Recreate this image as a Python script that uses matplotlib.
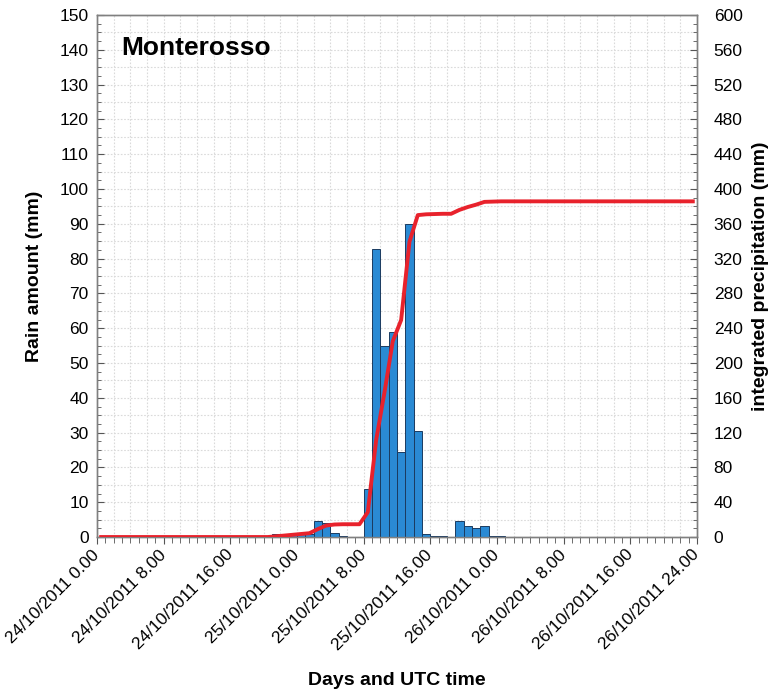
import numpy as np
from matplotlib import pyplot as plt
from matplotlib.ticker import MultipleLocator

plt.rcParams['font.family'] = ['Liberation Sans', 'DejaVu Sans']

# hourly rain (mm), hour 0 = 24/10/2011 0.00
hours = np.arange(72)
rain = [0.0] * 72
rain_read = {
	21: 0.8, 22: 0.9, 23: 0.9, 24: 0.9, 25: 0.9,
	26: 4.7, 27: 4.1, 28: 1.2, 29: 0.3,
	32: 13.9, 33: 82.7, 34: 54.9, 35: 58.9, 36: 24.3, 37: 90.0, 38: 30.6,
	39: 0.9, 40: 0.3, 41: 0.3,
	43: 4.5, 44: 3.3, 45: 2.7, 46: 3.2, 47: 0.3, 48: 0.3,
}
for h, v in rain_read.items():
	rain[h] = v

# integrated precipitation, plotted at the middle of each hour
integrated = np.cumsum(rain)

tick_hours = list(range(0, 73, 8))
tick_labels = ['24/10/2011 0.00', '24/10/2011 8.00', '24/10/2011 16.00',
	'25/10/2011 0.00', '25/10/2011 8.00', '25/10/2011 16.00',
	'26/10/2011 0.00', '26/10/2011 8.00', '26/10/2011 16.00',
	'26/10/2011 24.00']


fig = plt.figure(figsize=(7.77, 6.9), dpi=100)
ax = fig.add_axes([0.1248, 0.2217, 0.7722, 0.7566])
ax2 = ax.twinx()

ax.set_zorder(1)
ax2.set_zorder(2)
ax.patch.set_visible(True)
ax2.patch.set_visible(False)

ax.bar(hours, rain, width=1.0, align='edge', color='#2a8ad4',
	edgecolor='#1b3b60', linewidth=0.7, zorder=3)
ax2.plot(hours + 0.5, integrated, color='#e8222c', linewidth=2.8,
	solid_joinstyle='round', zorder=4)

ax.set_xlim(0, 72)
ax.set_ylim(0, 150)
ax2.set_ylim(0, 600)

ax.set_xticks(tick_hours)
ax.set_xticklabels(tick_labels, rotation=45, ha='right', va='center',
	rotation_mode='anchor', fontsize=12.5)
ax.xaxis.set_minor_locator(MultipleLocator(1))
ax.yaxis.set_major_locator(MultipleLocator(10))
ax.yaxis.set_minor_locator(MultipleLocator(2.5))
ax2.yaxis.set_major_locator(MultipleLocator(40))
ax2.yaxis.set_minor_locator(MultipleLocator(10))

# light dotted grid: every 2 hours / every 5 mm
for x in range(2, 72, 2):
	ax.axvline(x, color='#dadada', linestyle=(0, (1.5, 1.5)), linewidth=0.8, zorder=0)
for y in np.arange(5, 150, 5):
	ax.axhline(y, color='#dadada', linestyle=(0, (1.5, 1.5)), linewidth=0.8, zorder=0)

ax.tick_params(axis='x', which='major', direction='out', length=5, pad=6, colors='#555555', labelcolor='black')
ax.tick_params(axis='x', which='minor', direction='out', length=4, colors='#555555')
ax.tick_params(axis='y', which='major', direction='in', length=5, labelsize=12.5, pad=6, colors='#555555', labelcolor='black')
ax.tick_params(axis='y', which='minor', direction='in', length=3, colors='#555555')
ax2.tick_params(axis='y', which='major', direction='in', length=5, labelsize=12.5, pad=12, colors='#555555', labelcolor='black')
ax2.tick_params(axis='y', which='minor', direction='in', length=3, colors='#555555')

for a in (ax, ax2):
	for s in a.spines.values():
		s.set_color('#808080')
		s.set_linewidth(1.0)

ax.set_ylabel('Rain amount (mm)', fontsize=14, fontweight='bold', labelpad=12)
ax2.set_ylabel('integrated precipitation (mm)', fontsize=14, fontweight='bold',
	rotation=90, labelpad=7)
ax.set_xlabel('Days and UTC time', fontsize=14, fontweight='bold', labelpad=14)

ax.text(0.04, 0.96, 'Monterosso', transform=ax.transAxes, fontsize=19,
	fontweight='bold', ha='left', va='top', zorder=5)

fig.savefig('out.png', dpi=100)
